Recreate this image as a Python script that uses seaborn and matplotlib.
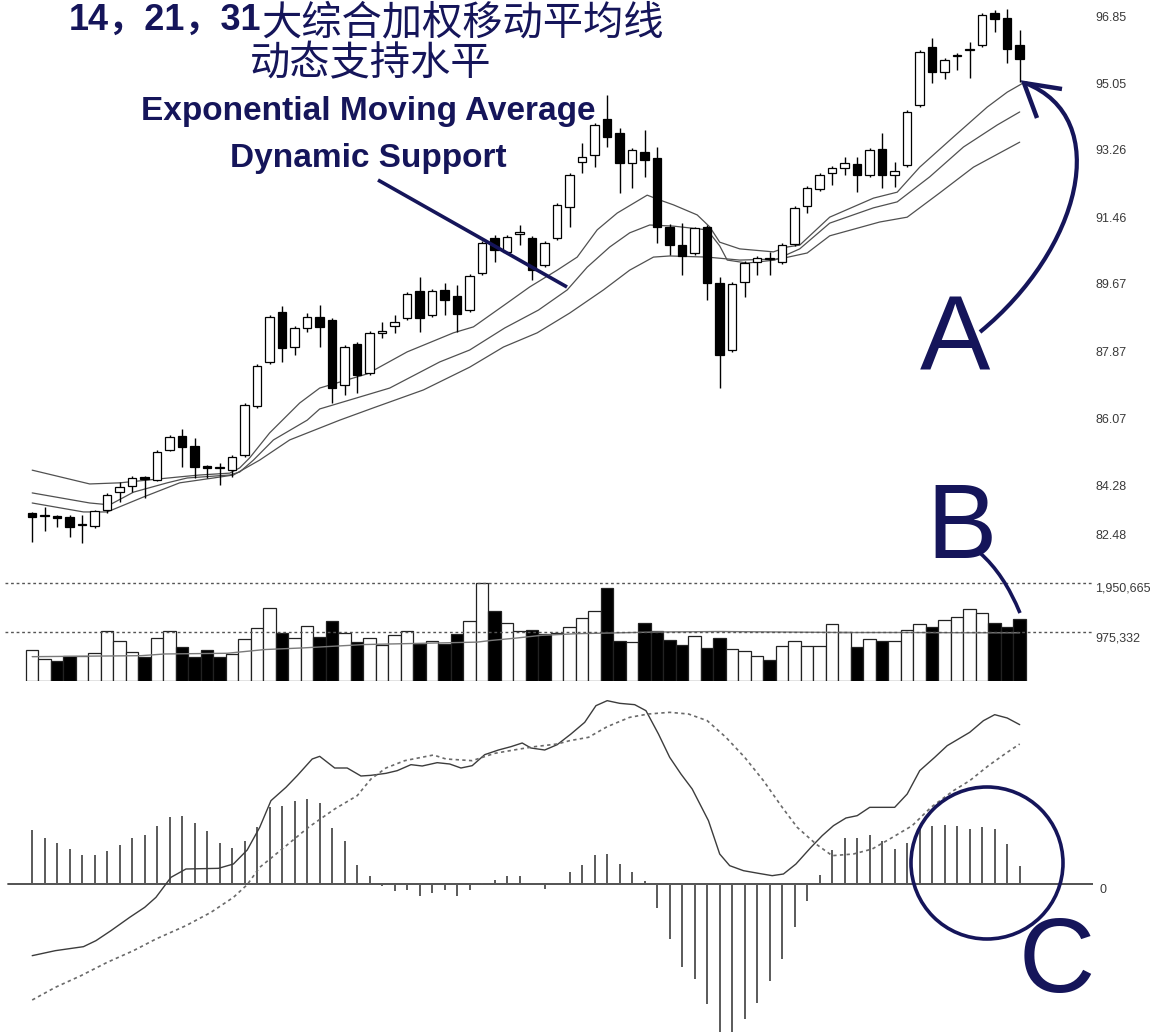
import numpy as np
import pandas as pd
import matplotlib
matplotlib.use('Agg')
import matplotlib.pyplot as plt
import matplotlib.transforms as mtransforms
from matplotlib.path import Path
from matplotlib.patches import PathPatch, Ellipse
import seaborn as sns

# ---------------- data ----------------
opens = [83.53, 83.44, 83.45, 83.42, 83.20, 83.18, 83.61, 84.09, 84.26, 84.50,
         84.42, 85.22, 85.60, 85.33, 84.79, 84.73, 84.68, 85.09, 86.40, 87.58,
         88.92, 87.98, 88.49, 88.78, 88.70, 86.96, 88.06, 87.28, 88.36, 88.54,
         88.76, 89.48, 88.84, 89.51, 89.35, 88.97, 89.96, 90.90, 90.53, 91.02,
         90.90, 90.18, 90.90, 91.74, 92.94, 93.12, 94.09, 93.72, 92.91, 93.21,
         93.05, 91.20, 90.71, 90.50, 91.20, 89.70, 87.90, 89.72, 90.26, 90.33,
         90.26, 90.74, 91.76, 92.21, 92.64, 92.78, 92.88, 92.59, 93.29, 92.59,
         92.86, 94.47, 96.02, 95.35, 95.77, 95.93, 96.07, 96.93, 96.80, 96.07]
closes = [83.42, 83.47, 83.40, 83.16, 83.23, 83.59, 84.01, 84.23, 84.47, 84.44,
          85.17, 85.57, 85.30, 84.76, 84.74, 84.76, 85.03, 86.43, 87.47, 88.78,
          87.95, 88.49, 88.78, 88.52, 86.88, 87.98, 87.23, 88.36, 88.41, 88.65,
          89.40, 88.76, 89.48, 89.24, 88.86, 89.88, 90.77, 90.58, 90.93, 91.06,
          90.04, 90.77, 91.79, 92.59, 93.07, 93.93, 93.61, 92.91, 93.26, 92.99,
          91.20, 90.71, 90.42, 91.17, 89.70, 87.77, 89.67, 90.23, 90.37, 90.36,
          90.71, 91.71, 92.24, 92.59, 92.78, 92.91, 92.59, 93.26, 92.59, 92.70,
          94.28, 95.89, 95.35, 95.67, 95.80, 95.96, 96.88, 96.77, 95.97, 95.70]
highs = [83.56, 83.69, 83.48, 83.48, 83.48, 83.62, 84.07, 84.36, 84.52, 84.52,
         85.22, 85.62, 85.78, 85.54, 84.82, 84.87, 85.09, 86.48, 87.52, 88.84,
         89.08, 88.54, 88.89, 89.11, 88.76, 88.03, 88.11, 88.41, 88.65, 88.84,
         89.45, 89.86, 89.53, 89.70, 89.64, 89.94, 90.82, 90.98, 90.98, 91.25,
         90.96, 90.82, 91.84, 92.64, 93.45, 93.98, 94.73, 93.85, 93.31, 93.80,
         93.34, 91.28, 91.30, 91.20, 91.25, 89.86, 89.72, 90.29, 90.42, 90.53,
         90.77, 91.76, 92.30, 92.64, 92.83, 93.07, 93.07, 93.31, 93.72, 92.94,
         94.33, 95.94, 96.26, 95.73, 95.86, 96.15, 96.93, 97.01, 97.04, 96.48]
lows = [82.75, 83.05, 83.16, 82.89, 82.73, 83.12, 83.53, 83.83, 84.09, 83.93,
        84.39, 85.19, 84.76, 84.47, 84.47, 84.28, 84.50, 85.03, 86.35, 87.52,
        87.58, 87.77, 88.38, 87.98, 86.48, 86.69, 86.75, 87.23, 88.22, 88.36,
        88.70, 88.38, 88.78, 88.84, 88.38, 88.92, 89.91, 90.26, 90.47, 90.71,
        89.78, 90.12, 90.85, 91.20, 92.64, 92.80, 93.34, 92.11, 92.24, 92.54,
        90.77, 90.45, 89.91, 90.45, 89.24, 86.88, 87.85, 89.32, 89.91, 89.91,
        90.20, 90.69, 91.57, 92.16, 92.32, 92.59, 92.13, 92.54, 92.24, 92.27,
        92.80, 94.41, 95.06, 95.16, 95.40, 95.19, 96.02, 96.42, 95.59, 95.08]

# three exponential moving averages (read at sampled bar positions)
ema14_idx = [0.0, 4.6, 7.0, 9.4, 11.8, 13.4, 15.8, 16.6, 17.4, 19.0, 21.4, 23.0, 26.8, 30.0,
             33.7, 35.3, 38.0, 39.8, 42.0, 43.6, 45.2, 46.8, 49.2, 50.2, 51.3, 53.2, 54.2,
             55.0, 56.6, 59.3, 60.4, 61.4, 63.8, 67.3, 69.2, 71.0, 73.7, 76.4, 78.0, 79.3]
ema14_val = [84.68, 84.31, 84.34, 84.42, 84.50, 84.55, 84.60, 84.74, 85.01, 85.68, 86.48, 86.88,
             87.26, 87.85, 88.36, 88.52, 89.16, 89.59, 90.04, 90.39, 91.12, 91.57, 92.05, 91.92,
             91.79, 91.52, 91.20, 90.79, 90.61, 90.53, 90.66, 90.71, 91.46, 91.97, 92.13, 92.80,
             93.61, 94.41, 94.81, 95.06]
ema21_idx = [0.0, 4.6, 6.2, 8.1, 10.8, 12.4, 15.8, 16.6, 17.7, 19.3, 22.0, 23.0, 28.6, 32.6,
             35.0, 37.8, 40.5, 42.8, 44.4, 46.2, 47.8, 49.4, 51.3, 54.0, 55.0, 55.6, 57.2, 59.4,
             61.4, 63.8, 67.3, 69.2, 71.8, 74.5, 77.2, 79.0]
ema21_val = [84.07, 83.80, 83.75, 84.09, 84.34, 84.47, 84.55, 84.63, 84.95, 85.49, 86.02, 86.32,
             86.88, 87.58, 87.90, 88.49, 88.97, 89.51, 90.12, 90.66, 91.04, 91.25, 91.22, 91.12,
             90.69, 90.31, 90.23, 90.31, 90.61, 91.30, 91.71, 91.87, 92.54, 93.34, 93.93, 94.28]
ema31_idx = [0.0, 4.1, 6.0, 8.9, 11.8, 14.5, 16.1, 18.2, 20.6, 24.6, 27.3, 31.3, 35.0, 37.7,
             40.4, 43.0, 45.7, 47.8, 49.7, 51.0, 54.0, 56.6, 59.8, 62.0, 63.8, 67.8, 70.0, 72.6,
             75.3, 79.0]
ema31_val = [83.80, 83.56, 83.56, 83.96, 84.34, 84.47, 84.55, 84.95, 85.49, 86.02, 86.35, 86.83,
             87.44, 87.98, 88.36, 88.89, 89.51, 90.04, 90.39, 90.42, 90.39, 90.31, 90.34, 90.50,
             90.96, 91.33, 91.46, 92.11, 92.80, 93.47]

price_ticks = [84.28, 86.07, 87.87, 89.67, 91.46, 93.26, 95.05, 96.85]
price_tick_labels = ['84.28', '86.07', '87.87', '89.67', '91.46', '93.26', '95.05', '96.85']

volume = [626e3, 437e3, 404e3, 504e3, 504e3, 558e3, 995e3, 787e3, 572e3, 484e3,
          854e3, 995e3, 686e3, 484e3, 626e3, 471e3, 538e3, 827e3, 1056e3, 1446e3,
          962e3, 854e3, 1090e3, 874e3, 1190e3, 962e3, 773e3, 854e3, 726e3, 921e3,
          989e3, 740e3, 787e3, 740e3, 942e3, 1197e3, 1951e3, 1399e3, 1164e3, 989e3,
          1009e3, 942e3, 962e3, 1076e3, 1258e3, 1399e3, 1850e3, 787e3, 773e3, 1164e3,
          989e3, 807e3, 720e3, 895e3, 652e3, 854e3, 639e3, 605e3, 504e3, 424e3,
          693e3, 794e3, 706e3, 706e3, 1130e3, 975e3, 686e3, 827e3, 787e3, 787e3,
          1022e3, 1130e3, 1076e3, 1211e3, 1278e3, 1426e3, 1345e3, 1164e3, 1076e3, 1231e3]
volume_down = [0, 0, 1, 1, 0, 0, 0, 0, 0, 1, 0, 0, 1, 1, 1, 1, 0, 0, 0, 0,
               1, 0, 0, 1, 1, 0, 1, 0, 0, 0, 0, 1, 0, 1, 1, 0, 0, 1, 0, 0,
               1, 1, 0, 0, 0, 0, 1, 1, 0, 1, 1, 1, 1, 0, 1, 1, 0, 0, 0, 1,
               0, 0, 0, 0, 0, 0, 1, 0, 1, 0, 0, 0, 1, 0, 0, 0, 0, 1, 1, 1]
vol_ma_idx = [0, 8.7, 10.6, 15.6, 18.6, 21.7, 26.6, 35.6, 36.7, 38.7, 40.7, 43.6,
              50, 55, 60, 65, 70, 75, 79]
vol_ma_val = [484e3, 504e3, 538e3, 552e3, 626e3, 659e3, 726e3, 774e3, 807e3, 854e3, 908e3,
              942e3, 975e3, 985e3, 975e3, 965e3, 965e3, 960e3, 960e3]
vol_levels = [975332, 1950665]
vol_level_labels = ['975,332', '1,950,665']

macd_hist = [0.162, 0.138, 0.122, 0.105, 0.088, 0.088, 0.100, 0.118, 0.138, 0.148,
             0.175, 0.202, 0.205, 0.183, 0.158, 0.123, 0.108, 0.128, 0.170, 0.232,
             0.235, 0.248, 0.255, 0.242, 0.168, 0.130, 0.058, 0.025, -0.005, -0.022,
             -0.018, -0.037, -0.026, -0.017, -0.037, -0.017, 0.003, 0.013, 0.025, 0.025,
             0.000, -0.015, 0.000, 0.035, 0.058, 0.088, 0.090, 0.060, 0.037, 0.008,
             -0.072, -0.165, -0.250, -0.285, -0.360, -0.445, -0.445, -0.405, -0.358, -0.292,
             -0.225, -0.130, -0.052, 0.028, 0.102, 0.137, 0.137, 0.148, 0.128, 0.105,
             0.122, 0.168, 0.175, 0.177, 0.175, 0.165, 0.172, 0.165, 0.120, 0.055]
macd_idx = [0, 1.85, 4.1, 5.1, 6.3, 7.8, 9.0, 9.9, 11.1, 12.3, 14.9, 16.1, 17.2, 18.2, 19.1,
            20.3, 21.2, 22.4, 23.0, 24.2, 25.2, 26.3, 27.1, 28.3, 29.2, 30.3, 31.2, 32.4, 33.4,
            34.3, 35.2, 36.2, 37.3, 38.3, 39.2, 39.9, 41.0, 42.0, 43.1, 44.2, 45.1, 46.0, 47.0,
            48.2, 49.1, 50.1, 51.0, 51.9, 52.8, 54.1, 55.0, 55.8, 56.9, 58.1, 59.2, 60.1, 61.1,
            62.3, 63.2, 64.1, 65.1, 66.0, 67.0, 69.0, 70.0, 71.0, 72.2, 73.2, 75.0, 76.1, 77.0,
            78.0, 79.0]
macd_val = [-0.215, -0.200, -0.188, -0.170, -0.140, -0.100, -0.070, -0.040, 0.020, 0.045,
            0.047, 0.060, 0.102, 0.170, 0.250, 0.290, 0.325, 0.375, 0.383, 0.348,
            0.348, 0.324, 0.326, 0.332, 0.340, 0.358, 0.354, 0.364, 0.360, 0.348,
            0.355, 0.388, 0.402, 0.412, 0.423, 0.408, 0.402, 0.418, 0.450, 0.485,
            0.535, 0.550, 0.542, 0.538, 0.520, 0.450, 0.380, 0.330, 0.285, 0.190,
            0.090, 0.055, 0.040, 0.032, 0.025, 0.030, 0.060, 0.110, 0.145, 0.175,
            0.198, 0.205, 0.230, 0.230, 0.270, 0.340, 0.380, 0.415, 0.455, 0.490,
            0.508, 0.498, 0.478]
signal_idx = [0, 1.85, 3.9, 6.0, 8.1, 9.9, 12.3, 14.3, 16.1, 17.2, 18.2, 20.0, 22.1, 24.2,
              26.0, 27.1, 28.3, 29.8, 32.1, 33.1, 35.2, 37.0, 39.0, 40.2, 42.0, 43.0, 44.5,
              46.0, 47.8, 49.3, 51.0, 52.5, 54.0, 55.5, 57.0, 58.5, 60.0, 61.2, 62.7, 64.0,
              65.7, 67.2, 68.6, 70.4, 71.9, 73.7, 75.0, 76.5, 78.0, 79.0]
signal_val = [-0.348, -0.310, -0.275, -0.235, -0.200, -0.165, -0.125, -0.085, -0.040, -0.002,
              0.050, 0.105, 0.170, 0.225, 0.265, 0.315, 0.348, 0.370, 0.387, 0.375,
              0.370, 0.392, 0.405, 0.412, 0.420, 0.430, 0.440, 0.472, 0.500, 0.510,
              0.515, 0.510, 0.490, 0.440, 0.380, 0.310, 0.230, 0.170, 0.120, 0.085,
              0.090, 0.105, 0.135, 0.175, 0.230, 0.280, 0.310, 0.355, 0.395, 0.420]

title_num = '14，21，31'
title_cn1 = '大综合加权移动平均线'
title_cn2 = '动态支持水平'
title_en1 = 'Exponential Moving Average'
title_en2 = 'Dynamic Support'

# ---------------- style ----------------
sns.set_theme(style='white')
plt.rcParams['font.family'] = ['Liberation Sans', 'DejaVu Sans']
NAVY = '#15155a'

W, H = 1153, 1034
fig = plt.figure(figsize=(W / 100, H / 100), dpi=100)
fig.patch.set_facecolor('white')


def px_axes(x0, y0, x1, y1):
    return fig.add_axes([x0 / W, 1 - y1 / H, (x1 - x0) / W, (y1 - y0) / H])


X0, DX = 32.2, 12.5
XLIM = ((5 - X0) / DX, (1093 - X0) / DX)

ax_p = px_axes(5, 0, 1093, 550)
ax_v = px_axes(5, 572, 1093, 681)
ax_m = px_axes(5, 690, 1093, 1034)
for ax in (ax_p, ax_v, ax_m):
    ax.set_xlim(*XLIM)
    for s in ax.spines.values():
        s.set_visible(False)
    ax.set_xticks([])
    ax.yaxis.tick_right()
    ax.tick_params(axis='y', length=0, pad=1.5, labelsize=9, labelcolor='#3a3a3a')
    ax.set_facecolor('none')
    ax.grid(False)

# ---------------- price panel ----------------
n = len(opens)
idx = np.arange(n)
o = np.array(opens); c = np.array(closes)
hi = np.array(highs); lo = np.array(lows)
up = c >= o
ax_p.vlines(idx, lo, hi, color='black', linewidth=1.0, zorder=2)
ax_p.bar(idx, np.maximum(np.abs(c - o), 0.03), bottom=np.minimum(o, c), width=0.68,
         color=np.where(up, 'white', 'black'), edgecolor='black', linewidth=0.9, zorder=3)
for xi, yi in ((ema14_idx, ema14_val), (ema21_idx, ema21_val), (ema31_idx, ema31_val)):
    sns.lineplot(x=xi, y=yi, ax=ax_p, color='#505050', linewidth=0.9, estimator=None,
                 sort=False, zorder=1)
ax_p.set_ylim(82.54, 97.28)
ax_p.set_yticks(price_ticks)
ax_p.set_yticklabels(price_tick_labels)
blend_p = mtransforms.blended_transform_factory(ax_p.transAxes, ax_p.transData)
ax_p.text(1 + 2 / 1088, 82.92, '82.48', transform=blend_p, fontsize=9, color='#3a3a3a',
          ha='left', va='center')
ax_p.set_xlabel(''); ax_p.set_ylabel('')

# ---------------- volume panel ----------------
vol_fill = ['black' if d else 'white' for d in volume_down]
ax_v.bar(idx, volume, width=1.0, color=vol_fill, edgecolor='#222222', linewidth=0.9, zorder=2)
sns.lineplot(x=vol_ma_idx, y=vol_ma_val, ax=ax_v, color='#7a7a7a', linewidth=1.0,
             estimator=None, sort=False, zorder=3)
for lv in vol_levels:
    ax_v.axhline(lv, color='#555555', linewidth=1.0, linestyle=(0, (2, 2)), zorder=4)
ax_v.set_ylim(0, 2169617)
ax_v.set_yticks(vol_levels)
ax_v.set_yticklabels(vol_level_labels)
for lbl in ax_v.get_yticklabels():
    lbl.set_va('top')
ax_v.set_xlabel(''); ax_v.set_ylabel('')

# ---------------- MACD panel ----------------
ax_m.axhline(0, xmin=3 / 1088, color='#444444', linewidth=1.3, zorder=1)
ax_m.vlines(idx, 0, macd_hist, color='#5a5a5a', linewidth=1.4, zorder=2)
sns.lineplot(x=macd_idx, y=macd_val, ax=ax_m, color='#3c3c3c', linewidth=1.0,
             estimator=None, sort=False, zorder=3)
sns.lineplot(x=signal_idx, y=signal_val, ax=ax_m, color='#6a6a6a', linewidth=1.2,
             linestyle=(0, (2, 2)), estimator=None, sort=False, zorder=3)
ax_m.set_ylim(-0.45, 0.582)
ax_m.set_yticks([0])
ax_m.set_yticklabels(['0'])
ax_m.tick_params(axis='y', pad=5)
for lbl in ax_m.get_yticklabels():
    lbl.set_va('top')
ax_m.set_xlabel(''); ax_m.set_ylabel('')

# ---------------- annotations ----------------
ov = fig.add_axes([0, 0, 1, 1], zorder=10)
ov.set_xlim(0, W); ov.set_ylim(H, 0)
ov.axis('off')
ov.patch.set_alpha(0)

ov.text(69, 30, title_num, fontsize=26, fontweight='bold',
        family=['Liberation Sans', 'Noto Sans CJK SC'], color=NAVY, ha='left', va='baseline')
ov.text(261, 34, title_cn1, fontsize=29, family=['Noto Sans CJK SC', 'DejaVu Sans'],
        color=NAVY, ha='left', va='baseline')
ov.text(371, 75, title_cn2, fontsize=29, family=['Noto Sans CJK SC', 'DejaVu Sans'],
        color=NAVY, ha='center', va='baseline')
ov.text(368, 120, title_en1, fontsize=24, fontweight='bold', family=['Liberation Sans'],
        color=NAVY, ha='center', va='baseline')
ov.text(368, 167, title_en2, fontsize=24, fontweight='bold', family=['Liberation Sans'],
        color=NAVY, ha='center', va='baseline')
ov.plot([378, 567], [180, 287], color=NAVY, linewidth=2.6, solid_capstyle='butt')

for letter, lx, ly in (('A', 955, 370), ('B', 962, 558), ('C', 1057, 992)):
    ov.text(lx, ly, letter, fontsize=76, family=['Liberation Sans'], color=NAVY,
            ha='center', va='baseline')

arc = Path([(980, 332), (1080, 250), (1115, 118), (1025, 83)],
           [Path.MOVETO, Path.CURVE4, Path.CURVE4, Path.CURVE4])
ov.add_patch(PathPatch(arc, facecolor='none', edgecolor=NAVY, linewidth=3.0))
ov.plot([1062, 1024, 1037], [89, 83, 118], color=NAVY, linewidth=3.2,
        solid_joinstyle='miter', solid_capstyle='butt')
bpath = Path([(980, 553), (1004, 574), (1020, 613)], [Path.MOVETO, Path.CURVE3, Path.CURVE3])
ov.add_patch(PathPatch(bpath, facecolor='none', edgecolor=NAVY, linewidth=2.6))
ov.add_patch(Ellipse((987, 863), 152, 152, fill=False, edgecolor=NAVY, linewidth=2.6))

fig.savefig('out.png', dpi=100)
